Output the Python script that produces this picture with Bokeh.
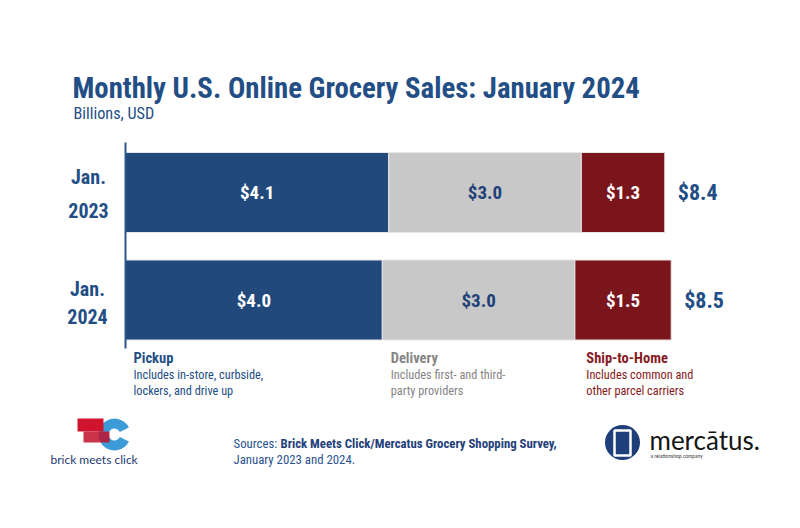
import numpy as np
from bokeh.plotting import figure
from bokeh.models import Range1d, Label, ColumnDataSource
from bokeh.core.properties import value
from bokeh.embed import file_html
from bokeh.resources import INLINE

# ---------------- data ----------------
title = "Monthly U.S. Online Grocery Sales: January 2024"
subtitle = "Billions, USD"
years = [2023, 2024]
period_month = ["Jan.", "Jan."]
period_year = ["2023", "2024"]
segments = ["Pickup", "Delivery", "Ship-to-Home"]
pickup = [4.1, 4.0]
delivery = [3.0, 3.0]
ship = [1.3, 1.5]
totals = [8.4, 8.5]
notes_line1 = ["Includes in-store, curbside,", "Includes first- and third-", "Includes common and"]
notes_line2 = ["lockers, and drive up", "party providers", "other parcel carriers"]
source_prefix = "Sources: "
source_bold = "Brick Meets Click/Mercatus Grocery Shopping Survey,"
source_line2 = "January 2023 and 2024."

# ---------------- style ----------------
FONT = "Roboto Condensed"
BLUE = "#21497c"
GRAY = "#c8c8c8"
RED = "#7a151c"
TITLE_BLUE = "#234e85"
seg_colors = [BLUE, GRAY, RED]
seg_text_colors = ["#ffffff", "#1f4079", "#ffffff"]
legend_colors = ["#234e85", "#858585", "#861a21"]

W, H = 800, 528
OFF = 0            # page offset of the figure
X0_PX = 125.0      # pixel of value 0
K = 64.2           # pixels per billion
Y_TOP_PX = 192.0   # pixel (from top) of first row centre
ROW_PX = 107.5     # pixels between rows

x_range = Range1d(-X0_PX / K, (W - X0_PX) / K)
y_range = Range1d(years[0] + (H - Y_TOP_PX) / ROW_PX, years[0] - Y_TOP_PX / ROW_PX)

p = figure(width=W, height=H, x_range=x_range, y_range=y_range,
           output_backend="svg", toolbar_location=None, min_border=0,
           x_axis_type=None, y_axis_type=None, outline_line_color=None,
           background_fill_color="white", border_fill_color="white")
p.grid.visible = False

def dx(px):  # page pixel -> data x (decorations only)
    return (px - OFF - X0_PX) / K

def dy(py):
    return years[0] + (py - OFF - Y_TOP_PX) / ROW_PX

# ---------------- bars ----------------
src = ColumnDataSource(dict(year=years, pickup=pickup, delivery=delivery, ship=ship))
p.hbar_stack(["pickup", "delivery", "ship"], y="year", height=80 / ROW_PX,
             color=seg_colors, line_color="#e6e6e6", line_width=1, source=src)

# axis line
p.segment(x0=[0], y0=[years[0] - 0.465], x1=[0], y1=[years[-1] + 0.45],
          line_color="#30578c", line_width=2)

vals = np.array([pickup, delivery, ship])  # shape (3, 2)
lefts = np.vstack([np.zeros(len(years)), np.cumsum(vals, axis=0)[:-1]])
for i in range(3):
    centers = lefts[i] + vals[i] / 2
    p.text(x=list(centers), y=years, text=[f"${v:.1f}" for v in vals[i]],
           text_color=seg_text_colors[i], text_align="center", text_baseline="middle",
           text_font=value(FONT), text_font_style="bold", text_font_size="19px")

# totals
p.text(x=totals, y=years, text=[f"${t:.1f}" for t in totals], x_offset=13,
       text_color="#234e85", text_align="left", text_baseline="middle",
       text_font=value(FONT), text_font_style="bold", text_font_size="22px")

# row labels
p.text(x=[0, 0], y=years, text=period_month, x_offset=[-37, -38], y_offset=[-16, -11],
       text_color="#234e85", text_align="center", text_baseline="middle",
       text_font=value(FONT), text_font_style="bold", text_font_size="20px")
p.text(x=[0, 0], y=years, text=period_year, x_offset=[-37, -38], y_offset=[18, 16],
       text_color="#234e85", text_align="center", text_baseline="middle",
       text_font=value(FONT), text_font_style="bold", text_font_size="20px")

# segment legend under the bars (aligned with first bar segment starts)
starts = list(lefts[:, 0])
xoffs = [8, 2, 5]
for i in range(3):
    p.text(x=[starts[i]], y=[years[-1]], text=[segments[i]], x_offset=xoffs[i], y_offset=58,
           text_color=legend_colors[i], text_align="left", text_baseline="middle",
           text_font=value(FONT), text_font_style="bold", text_font_size="14.5px")
    p.text(x=[starts[i]], y=[years[-1]], text=[notes_line1[i]], x_offset=xoffs[i], y_offset=74.5,
           text_color=legend_colors[i], text_align="left", text_baseline="middle",
           text_font=value(FONT), text_font_size="12.3px")
    p.text(x=[starts[i]], y=[years[-1]], text=[notes_line2[i]], x_offset=xoffs[i], y_offset=90.5,
           text_color=legend_colors[i], text_align="left", text_baseline="middle",
           text_font=value(FONT), text_font_size="12.3px")

# ---------------- titles ----------------
def lab(text, px, py, size, color, bold=False, font=FONT):
    p.add_layout(Label(x=px - OFF, y=H - (py - OFF), x_units="screen", y_units="screen",
                       text=text, text_font=font, text_font_size=size, text_color=color,
                       text_font_style="bold" if bold else "normal",
                       text_baseline="middle", text_align="left"))

lab(title, 72, 87, "28.8px", TITLE_BLUE, bold=True)
lab(subtitle, 73, 113, "16.2px", TITLE_BLUE)

# sources
lab(source_prefix, 233, 443, "12.8px", "#2a5391")
lab(source_bold, 280, 443, "12.8px", "#1f4079", bold=True)
lab(source_line2, 233, 459, "12.8px", "#2a5391")

# ---------------- logos (decoration) ----------------
# brick meets click
p.annular_wedge(x=[dx(114)], y=[dy(434)], inner_radius=6, outer_radius=16,
                inner_radius_units="screen", outer_radius_units="screen",
                start_angle=0.45, end_angle=2 * np.pi - 0.45,
                fill_color="#3d9bd8", line_color=None)
p.quad(left=[dx(77)], right=[dx(103)], top=[dy(418)], bottom=[dy(431)],
       fill_color="#d0142e", line_color=None)
p.quad(left=[dx(83)], right=[dx(109)], top=[dy(431)], bottom=[dy(442)],
       fill_color="#c0102a", fill_alpha=0.85, line_color=None)
lab("brick meets click", 50, 459, "12px", "#1f3a70", font="Lato")

# mercatus
p.scatter(x=[dx(622)], y=[dy(442)], size=35, marker="circle",
          fill_color="#1f3f7a", line_color=None)
p.quad(left=[dx(614)], right=[dx(630)], top=[dy(430)], bottom=[dy(455)],
       fill_color=None, line_color="white", line_width=2.5)
lab("mercātus.", 649, 439, "26px", "#151515", font="Lato")
lab("a relationshop company", 650, 455, "5px", "#333333", font="Lato")

open("out.html", "w").write(file_html(p, INLINE))
